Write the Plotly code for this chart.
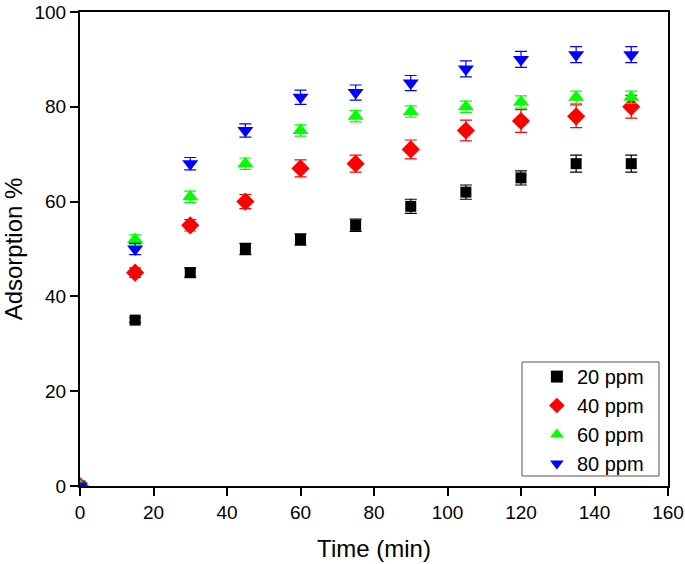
import plotly.graph_objects as go

time_min = [0, 15, 30, 45, 60, 75, 90, 105, 120, 135, 150]
ads_20 = [0, 35, 45, 50, 52, 55, 59, 62, 65, 68, 68]
ads_40 = [0, 45, 55, 60, 67, 68, 71, 75, 77, 78, 80]
ads_60 = [0, 52, 61, 68, 75, 78, 79, 80, 81, 82, 82]
ads_80 = [0, 50, 68, 75, 82, 83, 85, 88, 90, 91, 91]
err_20 = [0, 0.5, 1.0, 1.2, 1.2, 1.3, 1.5, 1.5, 1.5, 1.8, 1.8]
err_40 = [0, 1.0, 1.2, 1.5, 1.8, 1.8, 2.0, 2.2, 2.4, 2.4, 2.4]
err_60 = [0, 1.0, 1.2, 1.2, 1.2, 1.2, 1.2, 1.2, 1.3, 1.3, 1.3]
err_80 = [0, 1.2, 1.3, 1.4, 1.5, 1.6, 1.6, 1.7, 1.7, 1.7, 1.7]
labels = ["20 ppm", "40 ppm", "60 ppm", "80 ppm"]
colors = ["#000000", "#ff0000", "#00ff00", "#0000ff"]
symbols = ["square", "diamond", "triangle-up", "triangle-down"]
sizes = [11, 14, 14, 14]

fig = go.Figure()
for y, e, lab, c, s, sz in zip([ads_20, ads_40, ads_60, ads_80],
                               [err_20, err_40, err_60, err_80],
                               labels, colors, symbols, sizes):
    fig.add_trace(go.Scatter(
        x=time_min, y=y, mode="markers", name=lab,
        marker=dict(symbol=s, color=c, size=sz, line=dict(width=0)),
        error_y=dict(type="data", array=e, visible=True, color=c, thickness=1.2, width=6),
    ))

font = "Liberation Sans, Arial, sans-serif"
# legend frame
fig.add_shape(type="rect", xref="paper", yref="paper",
              x0=0.7517, x1=0.9847, y0=0.0211, y1=0.2616,
              line=dict(color="#555555", width=1), fillcolor="rgba(0,0,0,0)", layer="above")
fig.update_layout(
    width=685, height=564,
    margin=dict(l=80, r=17, t=12, b=78),
    paper_bgcolor="white", plot_bgcolor="white",
    font=dict(family=font, size=19, color="black"),
    showlegend=True,
    legend=dict(
        x=0.777, y=0.272, xanchor="left", yanchor="top",
        borderwidth=0, bgcolor="rgba(0,0,0,0)",
        font=dict(size=20, family=font), itemsizing="constant",
        tracegroupgap=0,
    ),
    xaxis=dict(
        range=[0, 160], tickvals=[0, 20, 40, 60, 80, 100, 120, 140, 160],
        ticks="outside", ticklen=8, tickwidth=2, tickcolor="black",
        showline=True, linewidth=2, linecolor="black", mirror=True,
        showgrid=False, zeroline=False, automargin=False,
        title=dict(text="Time (min)", font=dict(size=24, family=font), standoff=18),
        tickfont=dict(size=19, family=font),
    ),
    yaxis=dict(
        range=[0, 100], tickvals=[0, 20, 40, 60, 80, 100],
        ticks="outside", ticklen=8, tickwidth=2, tickcolor="black",
        showline=True, linewidth=2, linecolor="black", mirror=True,
        showgrid=False, zeroline=False, automargin=False,
        title=dict(text="Adsorption %", font=dict(size=24, family=font), standoff=12),
        tickfont=dict(size=19, family=font),
    ),
)
fig.write_html("out.html", config={"displayModeBar": False},
               post_script="document.body.style.margin='0';")
